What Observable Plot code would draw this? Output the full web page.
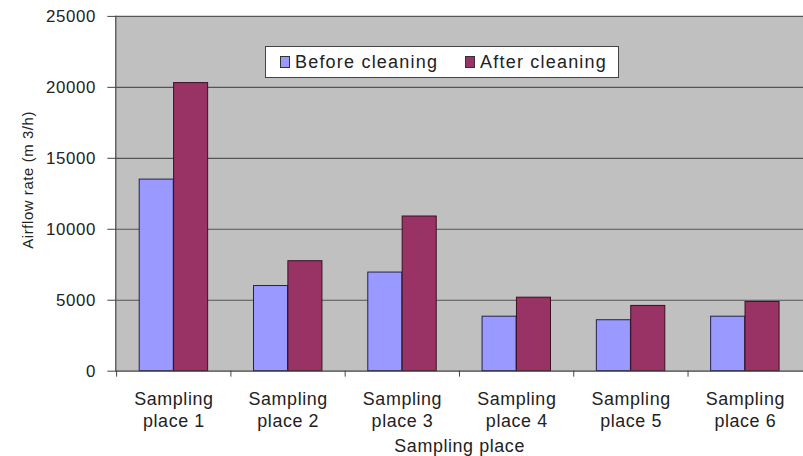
<!DOCTYPE html>
<html>
<head>
<meta charset="utf-8">
<script src="https://cdn.jsdelivr.net/npm/d3@7"></script>
<script src="https://cdn.jsdelivr.net/npm/@observablehq/plot@0.6"></script>
<style>
  html, body { margin: 0; padding: 0; background: #ffffff; overflow: hidden; }
  #wrap { position: relative; width: 803px; height: 456px; overflow: hidden; }
  #legend {
    position: absolute; left: 265px; top: 46px; width: 352px; height: 30px;
    background: #ffffff; border: 1px solid #444; box-sizing: content-box;
    font-family: "Liberation Sans", Arial, sans-serif; font-size: 18px; letter-spacing: 1.2px;
    color: #222; display: flex; align-items: center;
  }
  .item { display: flex; align-items: center; }
  .sw { width: 8px; height: 10px; border: 1px solid #333; margin-right: 5px; }
</style>
</head>
<body>
<div id="wrap"><div id="legend"></div></div>
<script>
const categories = ["Sampling place 1", "Sampling place 2", "Sampling place 3", "Sampling place 4", "Sampling place 5", "Sampling place 6"];
const seriesNames = ["Before cleaning", "After cleaning"];
const seriesColors = ["#9999ff", "#993366"];
const before = [13500, 6000, 6950, 3840, 3590, 3840];
const after = [20300, 7750, 10900, 5180, 4600, 4880];
const yTicks = [0, 5000, 10000, 15000, 20000, 25000];
const xTitle = "Sampling place";
const yTitle = "Airflow rate (m 3/h)";

const W = 808, H = 456;
const mL = 116, mR = 0, mT = 16, mB = 83;
const step = (W - mL - mR) / categories.length;
const barW = step * 0.3;
const outer = (step - 2 * barW) / 2;
const font = "'Liberation Sans', Arial, sans-serif";

const plot = Plot.plot({
  width: W, height: H,
  marginLeft: mL, marginRight: mR, marginTop: mT, marginBottom: mB,
  style: { fontFamily: font, color: "#222", background: "transparent", overflow: "visible" },
  x: { domain: categories, padding: 0, axis: null },
  y: { domain: [0, 25000], axis: null },
  marks: [
    Plot.frame({ fill: "#c0c0c0", stroke: null }),
    Plot.gridY(yTicks.filter(d => d > 0), { stroke: "#555", strokeOpacity: 1, strokeWidth: 1.2 }),
    Plot.barY(before, { x: categories, y: d => d, fill: seriesColors[0], stroke: "#22224a", strokeWidth: 1,
      insetLeft: outer, insetRight: outer + barW }),
    Plot.barY(after, { x: categories, y: d => d, fill: seriesColors[1], stroke: "#3a1020", strokeWidth: 1,
      insetLeft: outer + barW, insetRight: outer }),
    Plot.ruleY([0], { stroke: "#444", strokeWidth: 1.2 }),
    Plot.frame({ anchor: "left", stroke: "#444", strokeWidth: 1.2 }),
    Plot.ruleX(categories, { x: d => d, dx: -step / 2, y1: 0, y2: 0, insetBottom: -6, stroke: "#444" }),
    Plot.axisY({ ticks: yTicks, tickSize: 8, tickPadding: 12, fontSize: 17, stroke: "#444",
      tickFormat: d => String(d), style: { letterSpacing: "0.6px" } }),
    Plot.axisX({ tickSize: 0, tickPadding: 19, fontSize: 18, lineHeight: 1.2,
      tickFormat: d => d.replace(" place", "\nplace"), fill: "#222" }),
    Plot.text([xTitle], { frameAnchor: "bottom", lineAnchor: "middle", textAnchor: "middle", dy: 76, fontSize: 18, fill: "#222" }),
    Plot.text([yTitle], { frameAnchor: "left", textAnchor: "middle", lineAnchor: "middle", dx: -88, dy: -14, rotate: -90, fontSize: 15, fill: "#222" })
  ]
});
plot.style.letterSpacing = "0.6px";
document.getElementById("wrap").prepend(plot);

const legend = document.getElementById("legend");
seriesNames.forEach((name, i) => {
  const item = document.createElement("div");
  item.className = "item";
  item.style.marginLeft = i === 0 ? "14px" : "27px";
  const sw = document.createElement("div");
  sw.className = "sw";
  sw.style.background = seriesColors[i];
  const t = document.createElement("span");
  t.textContent = name;
  item.appendChild(sw); item.appendChild(t);
  legend.appendChild(item);
});
</script>
</body>
</html>
